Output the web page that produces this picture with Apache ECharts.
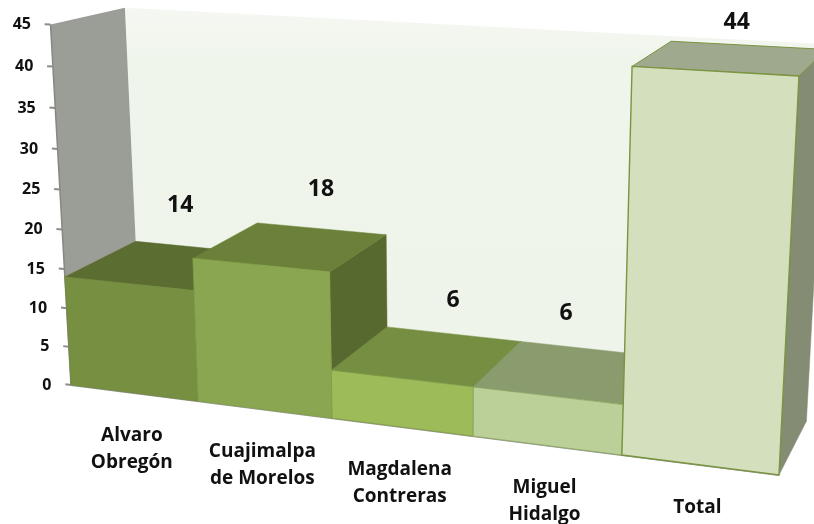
<!DOCTYPE html>
<html>
<head>
<meta charset="utf-8">
<style>html,body{margin:0;padding:0;background:#fff}#c{width:814px;height:524px}</style>
<script src="https://cdn.jsdelivr.net/npm/echarts@6/dist/echarts.min.js"></script>
</head>
<body>
<div id="c"></div>
<script>
const categories = ['Alvaro\nObregón', 'Cuajimalpa\nde Morelos', 'Magdalena\nContreras', 'Miguel\nHidalgo', 'Total'];
const values = [14, 18, 6, 6, 44];
const yTicks = [0, 5, 10, 15, 20, 25, 30, 35, 40, 45];

// Faces of each bar: front, top, side
const frontColors = ['#768f40', '#8aa650', '#9dbb58', '#bad098', '#d3dfbd'];
const topColors = ['#5b6d31', '#6b8038', '#768e42', '#8a9b6e', '#9fa98e'];
const sideColors = ['#4f5f2b', '#58692f', '#5f7335', '#75825c', '#848c74'];
const edgeColors = ['#74893f', '#83a04b', '#7f9c48', '#8ba660', '#7a9440'];
// Nudge of each value label from the top-back centre of its bar
const labelNudge = [[-16, -42], [0, -39], [0, -34], [-24, -36], [-11, -23]];

const VALUE_REF = 44, Y_MAX = 45;
const P = {a: 612, b: -22.56, c: 71, m: 78.9, d: 31.5, e: -353.66, f: 385, n: -18.6, g: -0.1232, h: -0.0502, k: 0.068};
// The chart is a 3D box seen in perspective: s across, t up, z into the page
function project(s, t, z) {
  const w = 1 + P.g * s + P.h * t + P.k * z;
  return [(P.a * s + P.b * t + P.c + P.m * z) / w, (P.d * s + P.e * t + P.f + P.n * z) / w];
}
function toST(params, api, cat, v, side) {
  const cs = params.coordSys, pt = api.coord([cat, v]), band = api.size([1, 0])[0];
  return [(pt[0] + side * band / 2 - cs.x) / cs.width,
          (cs.y + cs.height - pt[1]) / cs.height * Y_MAX / VALUE_REF];
}
function poly(pts, fill, stroke, lw) {
  return {type: 'polygon', shape: {points: pts},
    style: {fill: fill, stroke: stroke || fill, lineWidth: lw === undefined ? 0.6 : lw}};
}
const sans = '"Open Sans", Lato, sans-serif';

function renderWalls(params, api) {
  const top = api.coord([0, Y_MAX]), cs = params.coordSys;
  const tMax = (cs.y + cs.height - top[1]) / cs.height * Y_MAX / VALUE_REF;
  const tBack = tMax - 0.009;
  const wall = [project(0, 0, 1), project(1, 0, 1), project(1, tBack, 1), project(0, tBack, 1)];
  const left = [project(0, 0, 0), project(0, 0, 1), project(0, tBack, 1), project(0, tMax, 0)];
  const wallFill = new echarts.graphic.LinearGradient(0, 0, 0, 1, [
    {offset: 0, color: '#f5f8f2'}, {offset: 0.12, color: '#f0f5ec'}, {offset: 1, color: '#eef4ea'}
  ]);
  return {type: 'group', children: [
    poly(wall, wallFill, 'transparent', 0),
    poly(left, '#9b9d97', '#9b9d97', 0),
    {type: 'line', shape: {x1: left[0][0], y1: left[0][1], x2: left[3][0], y2: left[3][1]},
      style: {stroke: '#868882', lineWidth: 1.5}},
    {type: 'line', shape: {x1: project(0, 0, 0)[0], y1: project(0, 0, 0)[1], x2: project(1, 0, 0)[0], y2: project(1, 0, 0)[1]},
      style: {stroke: '#9a9a9a', lineWidth: 2}}
  ]};
}

function renderTick(params, api) {
  const v = api.value(1), st = toST(params, api, 0, v, -1);
  const a = project(0, st[1], 0), b = project(-0.009, st[1], 0);
  return {type: 'group', children: [
    {type: 'line', shape: {x1: a[0], y1: a[1], x2: b[0], y2: b[1]}, style: {stroke: '#8c8c8c', lineWidth: 2}},
    {type: 'text', style: {x: a[0] - 19.5, y: a[1], text: String(v), align: 'right', verticalAlign: 'middle',
      font: 'bold 16px ' + sans, fill: '#111'}}
  ]};
}

function renderBar(params, api) {
  const i = api.value(0), v = api.value(1);
  const l = toST(params, api, i, v, -1), r = toST(params, api, i, v, 1);
  const s0 = l[0], s1 = r[0], t = l[1];
  const front = [project(s0, 0, 0), project(s1, 0, 0), project(s1, t, 0), project(s0, t, 0)];
  const top = [project(s0, t, 0), project(s1, t, 0), project(s1, t, 1), project(s0, t, 1)];
  const side = [project(s1, 0, 0), project(s1, 0, 1), project(s1, t, 1), project(s1, t, 0)];
  const edge = edgeColors[i], lw = i === 4 ? 1.4 : 0.8;
  return {type: 'group', children: [
    poly(side, sideColors[i], sideColors[i], 0.5),
    poly(top, topColors[i], i === 4 ? edge : topColors[i], i === 4 ? 1 : 0.5),
    poly(front, frontColors[i], edge, lw)
  ]};
}

function renderValueLabel(params, api) {
  const i = api.value(0), v = api.value(1);
  const st = toST(params, api, i, v, 0), p = project(st[0], st[1], 1), n = labelNudge[i];
  return {type: 'text', style: {x: p[0] + n[0], y: p[1] + n[1], text: String(v), align: 'center', verticalAlign: 'middle',
    font: 'bold 23px ' + sans, fill: '#111'}};
}

function renderCategoryLabel(params, api) {
  const i = api.value(0);
  const st = toST(params, api, i, 0, 0), p = project(st[0], 0, 0);
  return {type: 'text', style: {x: p[0] - 2, y: p[1] + 29, text: categories[i], align: 'center', verticalAlign: 'top',
    font: 'bold 19px ' + sans, lineHeight: 27, fill: '#111'}};
}

const pairs = values.map((v, i) => [i, v]);
const chart = echarts.init(document.getElementById('c'));
chart.setOption({
  animation: false,
  backgroundColor: '#ffffff',
  grid: {left: 0, right: 0, top: 0, bottom: 0},
  xAxis: {type: 'category', data: categories, show: false},
  yAxis: {type: 'value', min: 0, max: Y_MAX, interval: 5, show: false},
  series: [
    {type: 'custom', renderItem: renderWalls, data: [[0, 0]], silent: true},
    {type: 'custom', renderItem: renderTick, data: yTicks.map(v => [0, v]), silent: true},
    {type: 'custom', renderItem: renderBar, data: pairs, silent: true},
    {type: 'custom', renderItem: renderValueLabel, data: pairs, silent: true},
    {type: 'custom', renderItem: renderCategoryLabel, data: pairs, silent: true}
  ]
});
</script>
</body>
</html>
